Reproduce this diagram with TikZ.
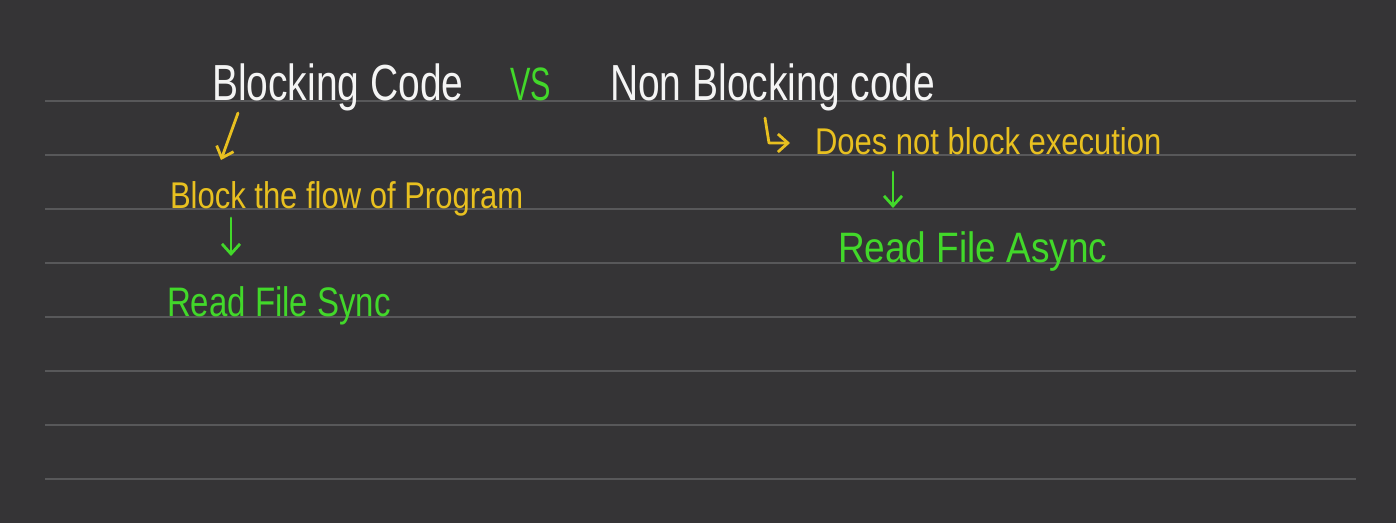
\documentclass[tikz,border=0pt]{standalone}
\usepackage{fontspec}
\setmainfont{Liberation Sans}
\usetikzlibrary{arrows.meta,calc}
\definecolor{bg}{HTML}{353436}
\definecolor{rule}{HTML}{58585A}
\definecolor{ink}{HTML}{F4F4F4}
\definecolor{hyellow}{HTML}{E8C020}
\definecolor{hgreen}{HTML}{42D82A}
\tikzset{
  txt/.style={anchor=base west, inner sep=0pt, outer sep=0pt},
  title/.style={txt, text=ink, font=\fontsize{39}{44}\selectfont},
  ynote/.style={txt, text=hyellow},
  gnote/.style={txt, text=hgreen},
  ruleline/.style={rule, line width=2pt},
  flow/.style={line width=2.8pt, line cap=round, line join=round, -{Straight Barb[length=10pt,width=18pt,line width=2.8pt]}}
}
\begin{document}
\begin{tikzpicture}[x=1pt,y=-1pt]
\fill[bg] (0,0) rectangle (1396,523);
\useasboundingbox (0,0) rectangle (1396,523);
\foreach \yy in {101,155,209,263,317,371,425,479}
  \draw[ruleline] (45,\yy) -- (1356,\yy);

\node[title] (bc) at (212,100) {\scalebox{1}[1.3]{Blocking Code}};
\node[gnote, font=\fontsize{36}{40}\selectfont] (vs) at (510,100) {\scalebox{0.85}[1.3]{VS}};
\node[title] (nbc) at (610,100) {\scalebox{1}[1.3]{Non Blocking code}};

\node[ynote, font=\fontsize{31}{36}\selectfont] (btf) at (170,208) {\scalebox{1}[1.2]{Block the flow of Program}};
\node[gnote, font=\fontsize{33}{38}\selectfont] (rfs) at (167,316) {\scalebox{1}[1.25]{Read File Sync}};

\node[ynote, font=\fontsize{31}{36}\selectfont] (dnb) at (815,154) {\scalebox{1}[1.2]{Does not block execution}};
\node[gnote, font=\fontsize{37}{42}\selectfont] (rfa) at (838,262) {\scalebox{1}[1.15]{Read File Async}};

\draw[flow, hyellow] ($(bc.base west)+(26,13)$) -- ($(btf.base west)+(51,-48)$);
\draw[flow, hgreen] ($(btf.base west)+(61,10)$) -- ($(rfs.base west)+(64,-60)$);
\draw[flow, hyellow] ($(nbc.base west)+(155,18)$) -- ($(nbc.base west)+(159,43)$) -- ($(dnb.base west)+(-25,-11)$);
\draw[flow, hgreen] ($(dnb.base west)+(78,18)$) -- ($(rfa.base west)+(55,-54)$);
\end{tikzpicture}
\end{document}
